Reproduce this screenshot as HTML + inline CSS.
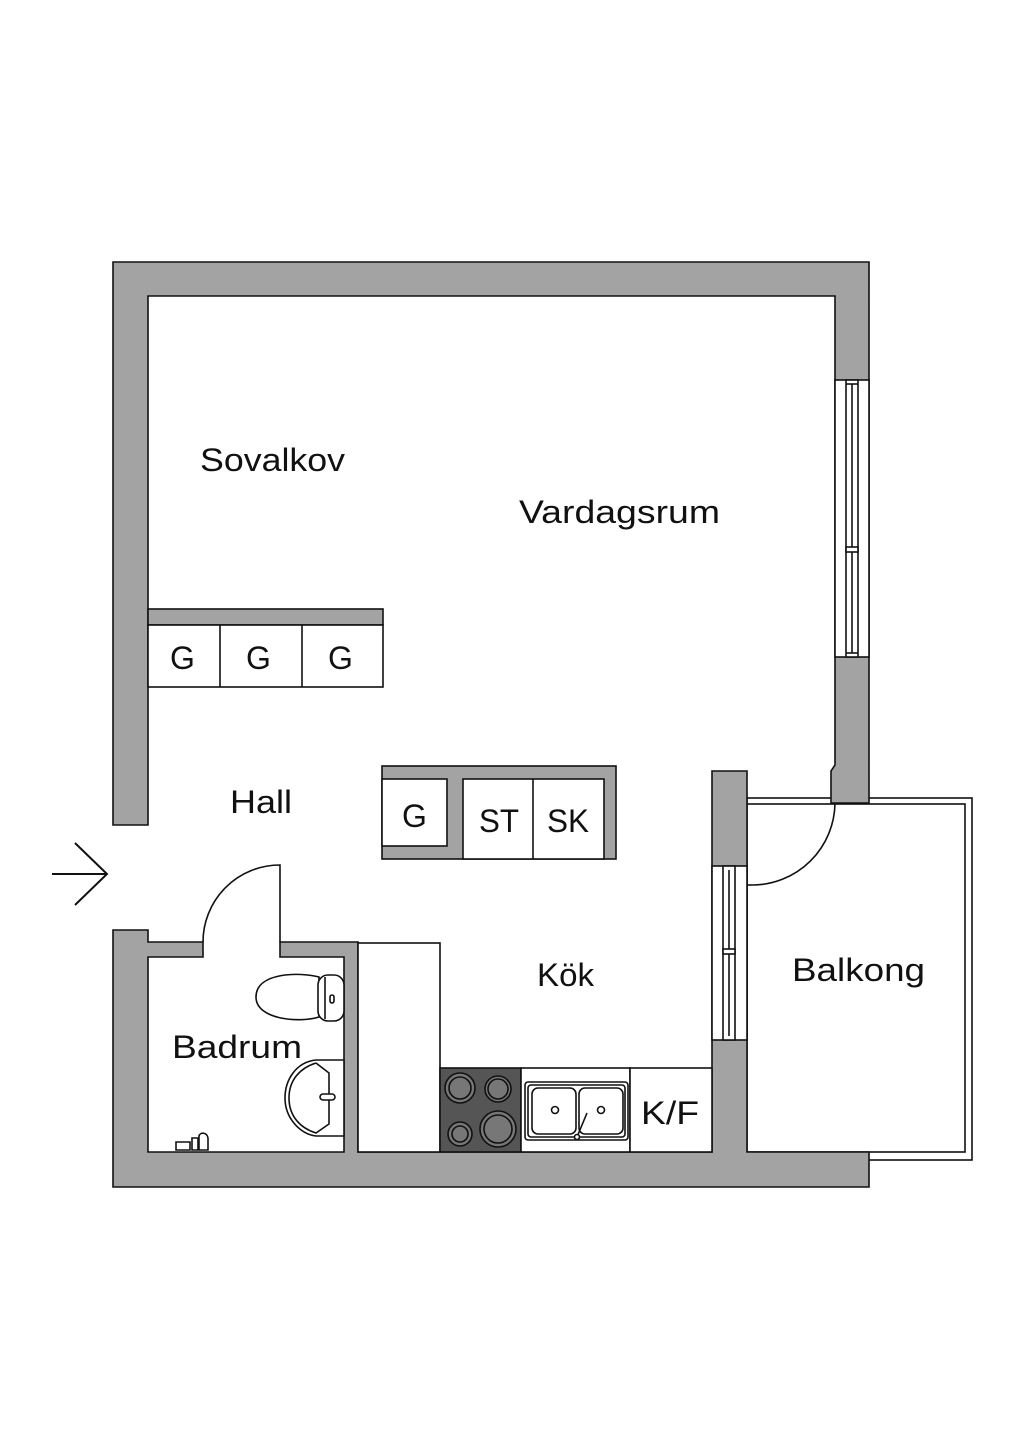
<!DOCTYPE html>
<html><head><meta charset="utf-8"><style>
html,body{margin:0;padding:0;background:#fff}
svg{display:block}
text{font-family:"Liberation Sans",sans-serif;fill:#111}
</style></head><body>
<svg width="1024" height="1448" viewBox="0 0 1024 1448" xmlns="http://www.w3.org/2000/svg">
<g stroke="#111" stroke-width="1.6">
<rect x="747" y="798" width="225" height="362" fill="#fff"/>
<rect x="747" y="804" width="218" height="348" fill="#fff"/>
<path fill="#a3a3a3" d="M113,262 H869 V803 H831 V771 L835,765 V296 H148 V825 H113 Z"/>
<path fill="#a3a3a3" d="M113,930 H148 V942 H203 V957 H148 V1152 H344 V957 H280 V942 H358 V1152 H712 V771 H747 V1152 H869 V1187 H113 Z"/>
<rect x="835" y="380" width="34" height="277" fill="#fff"/>
<rect x="846" y="380" width="12" height="277" fill="#fff"/>
<line x1="852" y1="384" x2="852" y2="653"/>
<line x1="846" y1="384" x2="858" y2="384"/><line x1="846" y1="653" x2="858" y2="653"/>
<rect x="846" y="547" width="12" height="5" fill="#fff"/>
<rect x="712" y="866" width="35" height="174" fill="#fff"/>
<rect x="723" y="866" width="12" height="174" fill="#fff"/>
<line x1="729" y1="870" x2="729" y2="1036"/>
<rect x="723" y="949" width="12" height="5" fill="#fff"/>
<rect x="148" y="609" width="235" height="16" fill="#a3a3a3"/>
<rect x="148" y="625" width="235" height="62" fill="#fff"/>
<line x1="220" y1="625" x2="220" y2="687"/><line x1="302" y1="625" x2="302" y2="687"/>
<rect x="382" y="766" width="234" height="93" fill="#a3a3a3"/>
<rect x="382" y="779" width="65" height="67" fill="#fff"/>
<rect x="463" y="779" width="141" height="80" fill="#fff"/>
<line x1="533" y1="779" x2="533" y2="859"/>
<rect x="358" y="943" width="82" height="209" fill="#fff"/>
<rect x="440" y="1068" width="81" height="84" fill="#555"/>
<rect x="521" y="1068" width="109" height="84" fill="#fff"/>
<rect x="630" y="1068" width="82" height="84" fill="#fff"/>
<g fill="#777">
<circle cx="460" cy="1088" r="15"/><circle cx="460" cy="1088" r="11"/>
<circle cx="498" cy="1089" r="13"/><circle cx="498" cy="1089" r="10"/>
<circle cx="460" cy="1134" r="12"/><circle cx="460" cy="1134" r="8"/>
<circle cx="498" cy="1129" r="18"/><circle cx="498" cy="1129" r="14"/>
</g>
<rect x="525" y="1082" width="103" height="58" rx="3" fill="#fff"/>
<rect x="528" y="1085" width="97" height="52" rx="3" fill="#fff"/>
<rect x="532" y="1088" width="44" height="46" rx="6" fill="#fff"/>
<rect x="579" y="1088" width="44" height="46" rx="6" fill="#fff"/>
<circle cx="555" cy="1110" r="3.5" fill="#fff"/><circle cx="601" cy="1110" r="3.5" fill="#fff"/>
<line x1="577" y1="1137" x2="587" y2="1113"/><circle cx="577" cy="1137" r="2.5" fill="#fff"/>
<path fill="none" d="M280,942 V865 A77,77 0 0 0 203,942"/>
<path fill="none" d="M752,885 A83,83 0 0 0 835,803"/>
<line x1="747" y1="885" x2="752" y2="885"/>
<path fill="none" stroke-width="2" d="M52,874 H107 M75,843 L107,874 L75,905"/>
<path fill="#fff" d="M319,977 C300,972 256,972 256,997 C256,1020 300,1023 319,1017 Z"/>
<rect x="318" y="975" width="26" height="46" rx="10" fill="#fff"/>
<line x1="325" y1="977" x2="325" y2="1019"/>
<rect x="330" y="995" width="4" height="8" rx="2" fill="#fff"/>
<path fill="#fff" d="M344,1060 H316 C296,1062 285,1080 285,1098 C285,1118 300,1134 316,1136 H344 Z"/>
<path fill="none" d="M316,1063 L329,1073 V1124 L316,1133 C300,1128 289,1116 289,1098 C289,1080 300,1068 316,1063"/>
<rect x="320" y="1094" width="15" height="6" rx="3" fill="#fff"/>
<path fill="#fff" d="M176,1150 V1142 H190 V1150 Z M192,1150 V1138 H198 V1150 Z M199,1150 V1136 C200,1132 207,1132 208,1138 V1150 Z"/>
</g>
<g font-size="32">
<text x="200" y="471" textLength="145" lengthAdjust="spacingAndGlyphs">Sovalkov</text>
<text x="519" y="523" textLength="201" lengthAdjust="spacingAndGlyphs">Vardagsrum</text>
<text x="230" y="813" textLength="62" lengthAdjust="spacingAndGlyphs">Hall</text>
<text x="172" y="1058" textLength="130" lengthAdjust="spacingAndGlyphs">Badrum</text>
<text x="537" y="986" textLength="57" lengthAdjust="spacingAndGlyphs">Kök</text>
<text x="792" y="981" textLength="133" lengthAdjust="spacingAndGlyphs">Balkong</text>
<text x="170" y="669">G</text><text x="246" y="669">G</text><text x="328" y="669">G</text>
<text x="402" y="827">G</text>
<text x="479" y="832" textLength="40" lengthAdjust="spacingAndGlyphs">ST</text>
<text x="547" y="832" textLength="42" lengthAdjust="spacingAndGlyphs">SK</text>
<text x="641" y="1124" textLength="58" lengthAdjust="spacingAndGlyphs">K/F</text>
</g>
</svg>
</body></html>
